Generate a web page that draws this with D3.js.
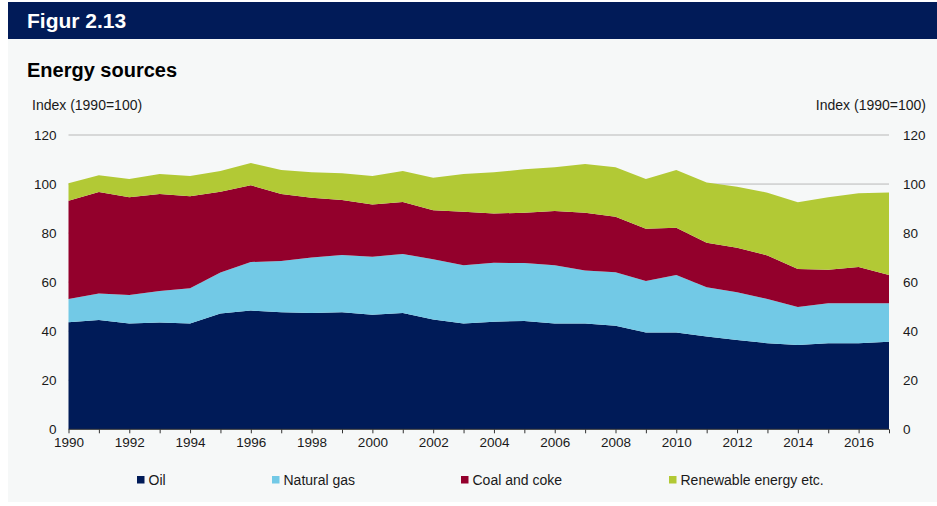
<!DOCTYPE html>
<html>
<head>
<meta charset="utf-8">
<script src="https://cdn.jsdelivr.net/npm/d3@7"></script>
<style>
  html, body { margin: 0; padding: 0; background: #ffffff; }
  svg { display: block; font-family: "Liberation Sans", Arial, sans-serif; }
</style>
</head>
<body>
<svg id="chart" width="937" height="506"></svg>
<script>
// Energy consumption by source, index (1990 = 100), stacked
const years = d3.range(1990, 2018);
const oil = [43.6, 44.6, 43.1, 43.5, 43.1, 47.2, 48.4, 47.7, 47.4, 47.7,
             46.7, 47.4, 44.8, 43.1, 43.9, 44.2, 43.1, 43.1, 42.2, 39.5,
             39.5, 37.8, 36.4, 35.1, 34.4, 35.1, 35.1, 35.7];
const naturalGas = [9.5, 10.8, 11.7, 12.9, 14.4, 16.7, 19.8, 20.9, 22.7, 23.4,
                    23.7, 24.1, 24.5, 23.8, 24.0, 23.6, 23.8, 21.6, 21.8, 21.0,
                    23.4, 20.1, 19.5, 18.0, 15.5, 16.3, 16.3, 15.7];
const coalAndCoke = [40.1, 41.4, 39.8, 39.5, 37.5, 33.0, 31.3, 27.3, 24.3, 22.4,
                     21.3, 21.2, 20.0, 21.8, 20.1, 20.5, 22.1, 23.6, 22.7, 21.3,
                     19.3, 18.2, 18.1, 17.8, 15.5, 13.7, 14.8, 11.5];
const renewable = [7.1, 6.8, 7.5, 8.2, 8.3, 8.4, 9.1, 9.8, 10.4, 10.9,
                   11.6, 12.6, 13.3, 15.4, 16.8, 17.7, 17.8, 19.9, 20.1, 20.3,
                   23.5, 24.5, 24.9, 25.6, 27.2, 29.5, 30.0, 33.7];
const seriesNames = ["Oil", "Natural gas", "Coal and coke", "Renewable energy etc."];
const seriesColors = ["#001b58", "#72c9e6", "#93002c", "#b2c935"];
const yTicks = [0, 20, 40, 60, 80, 100, 120];
const xTickYears = d3.range(1990, 2017, 2);

const rows = years.map((y, i) => ({
  year: y,
  "Oil": oil[i],
  "Natural gas": naturalGas[i],
  "Coal and coke": coalAndCoke[i],
  "Renewable energy etc.": renewable[i]
}));

const svg = d3.select("#chart");

// Panel and header bar
svg.append("rect").attr("x", 8).attr("y", 39).attr("width", 929).attr("height", 463)
  .attr("fill", "#f6f8f8");
svg.append("rect").attr("x", 8).attr("y", 2).attr("width", 929).attr("height", 37)
  .attr("fill", "#011b58");
svg.append("text").attr("x", 27).attr("y", 28)
  .attr("fill", "#ffffff").attr("font-weight", "bold").attr("font-size", 21)
  .text("Figur 2.13");
svg.append("text").attr("x", 27).attr("y", 77)
  .attr("fill", "#000000").attr("font-weight", "bold").attr("font-size", 20)
  .text("Energy sources");
svg.append("text").attr("x", 32).attr("y", 110)
  .attr("fill", "#1a1a1a").attr("font-size", 14)
  .text("Index  (1990=100)");
svg.append("text").attr("x", 926).attr("y", 110).attr("text-anchor", "end")
  .attr("fill", "#1a1a1a").attr("font-size", 14)
  .text("Index  (1990=100)");

const x = d3.scaleLinear().domain([1990, 2017]).range([68.5, 889]);
const y = d3.scaleLinear().domain([0, 120]).range([429.3, 135]);

// Gridlines
svg.append("g").selectAll("line").data(yTicks.filter(t => t > 0)).join("line")
  .attr("x1", x(1990)).attr("x2", x(2017))
  .attr("y1", d => y(d)).attr("y2", d => y(d))
  .attr("stroke", "#b8b8b8").attr("stroke-width", 1);

// Stacked areas
const stack = d3.stack().keys(seriesNames);
const layers = stack(rows);
const area = d3.area()
  .x(d => x(d.data.year))
  .y0(d => y(d[0]))
  .y1(d => y(d[1]));
svg.append("g").selectAll("path").data(layers).join("path")
  .attr("d", area)
  .attr("fill", (d, i) => seriesColors[i]);

// Axes
const yLeft = d3.axisLeft(y).tickValues(yTicks).tickSize(0).tickPadding(12);
const yRight = d3.axisRight(y).tickValues(yTicks).tickSize(0).tickPadding(14);
const gl = svg.append("g").attr("transform", `translate(${x(1990)},0)`).call(yLeft);
const gr = svg.append("g").attr("transform", `translate(${x(2017)},0)`).call(yRight);
[gl, gr].forEach(g => {
  g.select(".domain").remove();
  g.selectAll("text").attr("font-size", 13.5).attr("fill", "#1a1a1a")
    .attr("font-family", "'Liberation Sans', Arial, sans-serif");
});

const xAxis = d3.axisBottom(x).tickValues(years).tickSize(4).tickPadding(4)
  .tickFormat(d => xTickYears.includes(d) ? d : "");
const gx = svg.append("g").attr("transform", `translate(0,${y(0)})`).call(xAxis);
gx.select(".domain").attr("stroke", "#333333").attr("d", `M${x(1990)},0H${x(2017)}`);
gx.selectAll(".tick line").attr("stroke", "#333333");
gx.selectAll("text").attr("font-size", 13.5).attr("fill", "#1a1a1a")
  .attr("font-family", "'Liberation Sans', Arial, sans-serif");

// Legend
const legendX = [137, 272, 461, 669];
const legend = svg.append("g").selectAll("g").data(seriesNames).join("g")
  .attr("transform", (d, i) => `translate(${legendX[i]},476)`);
legend.append("rect").attr("width", 7.5).attr("height", 7.5)
  .attr("fill", (d, i) => seriesColors[i]);
legend.append("text").attr("x", 11.5).attr("y", 8.5)
  .attr("font-size", 14).attr("fill", "#1a1a1a")
  .text(d => d);
</script>
</body>
</html>
